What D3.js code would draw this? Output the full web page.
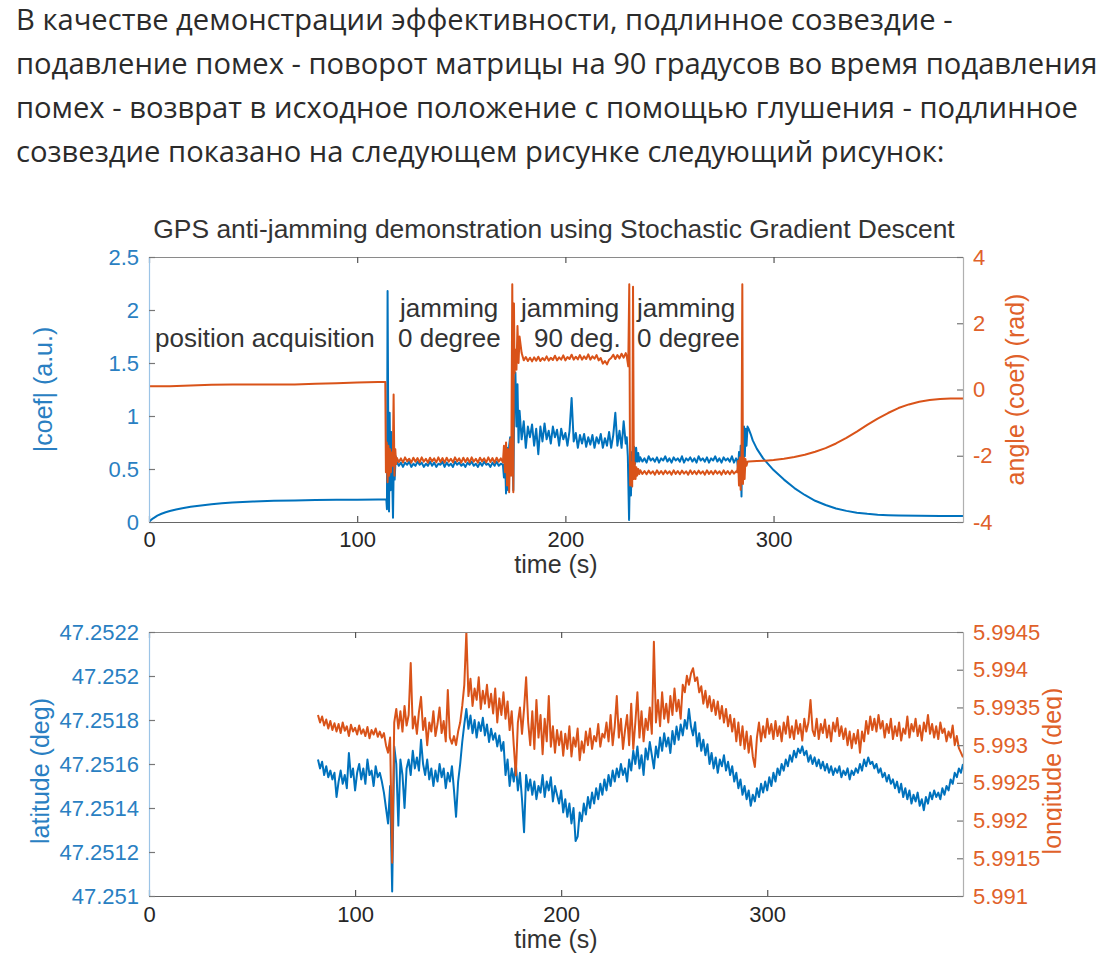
<!DOCTYPE html>
<html>
<head>
<meta charset="utf-8">
<script src="https://cdn.jsdelivr.net/npm/d3@7"></script>
<style>
html,body{margin:0;padding:0;background:#fff;}
svg{display:block;}
</style>
</head>
<body>
<svg id="chart" width="1106" height="957"></svg>
<script>
// ---------------- texts ----------------
const paragraphLines = [
  "В качестве демонстрации эффективности, подлинное созвездие -",
  "подавление помех - поворот матрицы на 90 градусов во время подавления",
  "помех - возврат в исходное положение с помощью глушения - подлинное",
  "созвездие показано на следующем рисунке следующий рисунок:"
];
const titleText = "GPS anti-jamming demonstration using Stochastic Gradient Descent";
const timeLabel = "time (s)";
const coefLabel = "|coef| (a.u.)";
const angleLabel = "angle (coef) (rad)";
const latLabel = "latitude (deg)";
const lonLabel = "longitude (deg)";

// ---------------- tick values ----------------
const timeTicks = [0, 100, 200, 300];
const coefTicks = [0, 0.5, 1, 1.5, 2, 2.5];
const angleTicks = [-4, -2, 0, 2, 4];
const latTicks = [47.251, 47.2512, 47.2514, 47.2516, 47.2518, 47.252, 47.2522];
const lonTicks = [5.991, 5.9915, 5.992, 5.9925, 5.993, 5.9935, 5.994, 5.9945];

// ---------------- top chart: |coef| (a.u.) ----------------
const coefAcquisition = [[0,0],[1,0.02],[2,0.035],[4,0.06],[6,0.078],[8,0.092],[10,0.103],[13,0.118],[16,0.13],[20,0.143],[25,0.156],[30,0.167],[35,0.176],[40,0.183],[50,0.193],[60,0.2],[70,0.204],[80,0.207],[90,0.209],[100,0.211],[110,0.213],[114,0.214]];
const coefTransition1 = [[114.3,0.12],[114.6,2.18],[115,0.6],[115.3,0.1],[115.6,1.03],[116,0.3],[116.4,0.85],[116.8,0.45],[117.2,0.04],[117.6,0.6],[118,0.4],[118.5,0.62]];
const coefJam0 = [0.57,0.53,0.56,0.52,0.56,0.54,0.57,0.52,0.55,0.53,
  0.57,0.54,0.56,0.52,0.55,0.53,0.57,0.53,0.56,0.52,
  0.55,0.54,0.57,0.52,0.56,0.53,0.55,0.52,0.57,0.54,
  0.56,0.53,0.55,0.52,0.56,0.54,0.57,0.53,0.55,0.52,
  0.56,0.53,0.57,0.54,0.55,0.52,0.56,0.53,0.57,0.53,
  0.55,0.54];
const coefTransition2 = [[170.5,0.42],[171,0.62],[171.5,0.27],[172,0.7],[172.5,0.3],[173,0.72],[173.5,0.8],[174,0.6],[174.5,0.85],[175,0.3],[175.5,1.2],[176,1.41],[176.5,0.9],[177,1.3],[177.5,0.75]];
const coefJam90 = [1.05,0.78,0.95,0.7,0.9,0.8,0.92,0.72,0.88,0.64,
  0.9,0.76,0.93,0.78,0.86,0.74,0.9,0.8,0.87,0.72,
  0.88,0.78,0.84,0.72,0.86,1.17,0.76,0.84,0.7,0.82,
  0.74,0.83,0.71,0.8,0.73,0.82,0.7,0.8,0.74,0.83,
  0.7,0.79,0.72,0.85,0.7,0.82,1.03,0.72,0.86,0.7,
  0.95,0.74];
const coefTransition3 = [[229.5,0.8],[230,0.62],[230.6,0.02],[231,0.5],[231.5,0.25],[232,0.66],[232.5,0.42],[233,0.71],[233.5,0.55],[234,0.7],[234.5,0.57],[235,0.65],[235.5,0.57]];
const coefJam0b = [0.61,0.57,0.6,0.56,0.62,0.58,0.6,0.57,0.61,0.56,
  0.6,0.58,0.62,0.57,0.6,0.56,0.61,0.58,0.6,0.57,
  0.62,0.56,0.6,0.58,0.61,0.57,0.6,0.56,0.62,0.58,
  0.6,0.57,0.61,0.56,0.6,0.58,0.62,0.57,0.6,0.56,
  0.61,0.58,0.6,0.57,0.62,0.56,0.6];
const coefTransition4 = [[282.5,0.58],[283,0.5],[283.4,0.66],[283.8,0.38],[284.2,0.72],[284.6,0.24],[285,0.82],[285.4,0.5],[285.8,0.9],[286.2,0.62],[286.6,0.88],[287,0.72],[287.5,0.9]];
const coefRelease = [[288,0.88],[289,0.83],[290,0.77],[292,0.69],[295,0.6],[300,0.49],[305,0.4],[310,0.32],[315,0.255],[320,0.2],[325,0.16],[330,0.128],[335,0.105],[340,0.088],[345,0.077],[350,0.069],[355,0.064],[360,0.061],[370,0.058],[380,0.057],[391,0.057]];

// ---------------- top chart: angle (coef) (rad) ----------------
const angleAcquisition = [[0,0.1],[10,0.1],[20,0.12],[30,0.14],[40,0.15],[50,0.15],[60,0.15],[70,0.15],[80,0.17],[90,0.19],[100,0.21],[110,0.23],[113.5,0.23]];
const angleTransition1 = [[113.8,-2.5],[114.2,-1.6],[114.6,-2.8],[115,-1.7],[115.4,-2.6],[115.8,-1.8],[116.2,-2.5],[116.6,-1.9],[117.1,-2.3],[117.5,-0.15],[117.9,-2.6],[118.3,-1.8],[118.7,-2.25]];
const angleJam0 = [-2.06,-2.19,-2.08,-2.2,-2.05,-2.17,-2.09,-2.21,-2.06,-2.18,
  -2.07,-2.2,-2.05,-2.18,-2.09,-2.21,-2.06,-2.17,-2.08,-2.2,
  -2.05,-2.19,-2.07,-2.21,-2.06,-2.18,-2.09,-2.2,-2.05,-2.17,
  -2.08,-2.21,-2.06,-2.19,-2.07,-2.2,-2.05,-2.18,-2.09,-2.21,
  -2.06,-2.17,-2.08,-2.2,-2.05,-2.19,-2.07,-2.21,-2.06,-2.18,
  -2.08,-2.2];
const angleTransition2 = [[170.5,-1.7],[171,-2.5],[171.5,-1.6],[172,-2.9],[172.5,-1.8],[173,-3.1],[173.5,-1.5],[174,-2.6],[174.5,3.18],[175,-3.1],[175.3,2.6],[175.6,0.5],[176,1.2],[176.5,0.6],[177,1.92],[177.5,0.8]];
const angleJam90 = [1.6,1.1,0.88,0.98,0.86,0.96,0.85,0.97,0.87,0.99,
  0.86,0.95,0.88,1.0,0.87,0.96,0.89,1.02,0.88,0.97,
  0.9,1.03,0.88,0.98,0.92,1.05,0.9,0.99,0.91,1.04,
  0.9,1.0,0.92,1.06,0.9,1.0,0.93,1.04,0.88,0.95,
  0.78,0.86,0.76,0.9,0.95,1.05,0.92,1.04,0.94,1.08,
  0.96,1.1];
const angleTransition3 = [[229.5,1.0],[230.2,0.7],[230.7,3.18],[231.1,-2.9],[231.6,-2.2],[232.1,-2.93],[232.5,3.1],[232.9,-2.7],[233.3,-2.2],[233.7,-2.7],[234.1,-2.35],[234.5,-2.6],[235,-2.4],[235.5,-2.55]];
const angleJam0b = [-2.44,-2.55,-2.46,-2.56,-2.45,-2.54,-2.47,-2.57,-2.44,-2.55,
  -2.46,-2.56,-2.45,-2.54,-2.47,-2.57,-2.44,-2.55,-2.46,-2.56,
  -2.45,-2.54,-2.47,-2.57,-2.44,-2.55,-2.46,-2.56,-2.45,-2.54,
  -2.47,-2.57,-2.44,-2.55,-2.46,-2.56,-2.45,-2.54,-2.47,-2.57,
  -2.44,-2.55,-2.46,-2.56,-2.45,-2.54,-2.47];
const angleTransition4 = [[282.5,-2.5],[283,-2.15],[283.4,-2.9],[283.8,-2.05],[284.2,-3.03],[284.6,-2.25],[285,3.18],[285.3,-2.85],[285.7,-2.05],[286.1,-2.7],[286.5,-2.1],[287,-2.3],[287.5,-2.18]];
const angleRelease = [[288,-2.17],[292,-2.16],[296,-2.15],[300,-2.13],[305,-2.09],[310,-2.04],[315,-1.97],[320,-1.88],[325,-1.77],[330,-1.63],[335,-1.46],[340,-1.27],[345,-1.07],[350,-0.88],[355,-0.71],[360,-0.56],[365,-0.45],[370,-0.37],[375,-0.32],[380,-0.29],[385,-0.27],[391,-0.27]];

// start times (s) of the 1-second-sampled jamming segments
const jamStarts = {jam0: 119, jam90: 178, jam0b: 236};

// phase annotations: time (s), |coef| level of text baseline
const phaseNotes = [
  {t: 2.9,   v: 1.651, text: "position acquisition"},
  {t: 120.6, v: 1.934, text: "jamming"},
  {t: 119.6, v: 1.651, text: "0 degree"},
  {t: 178.7, v: 1.934, text: "jamming"},
  {t: 184.9, v: 1.651, text: "90 deg."},
  {t: 234.4, v: 1.934, text: "jamming"},
  {t: 234.4, v: 1.651, text: "0 degree"}
];

// ---------------- bottom chart: GPS fix, 1 s samples from t = 82 s ----------------
const gpsStart = 82;
const latitude = [
  47.25162,47.25158,47.25161,47.25155,47.25159,47.25154,47.25157,47.25153,47.25156,47.25145,
  47.25152,47.25157,47.25151,47.25155,47.25149,47.25165,47.25154,47.25158,47.25148,47.25156,
  47.2516,47.25153,47.25158,47.25151,47.25162,47.25155,47.25157,47.2515,47.25159,47.25154,
  47.25156,47.25152,47.25147,47.2514,47.25133,47.2515,47.25102,47.25168,47.2516,47.25132,
  47.25162,47.25155,47.2514,47.25158,47.25162,47.25155,47.25166,47.25158,47.25163,47.25157,
  47.25171,47.2516,47.25155,47.25162,47.25153,47.25158,47.2515,47.25157,47.25152,47.2516,
  47.25154,47.25158,47.25149,47.25156,47.25152,47.25159,47.25148,47.25136,47.25152,47.2516,
  47.2517,47.25178,47.25185,47.25176,47.25182,47.25174,47.2518,47.25172,47.25179,47.25175,
  47.25181,47.25173,47.25178,47.2517,47.25176,47.25171,47.25174,47.25168,47.25173,47.25166,
  47.2517,47.25155,47.25162,47.2515,47.25158,47.25152,47.2516,47.25148,47.25156,47.25144,
  47.25129,47.25155,47.25148,47.25153,47.25146,47.25152,47.25144,47.2515,47.25147,47.25155,
  47.25145,47.25152,47.25148,47.25154,47.25143,47.2515,47.25146,47.25142,47.25148,47.25138,
  47.25144,47.25136,47.25142,47.25133,47.2514,47.25125,47.25127,47.25138,47.25134,47.25142,
  47.25137,47.25145,47.2514,47.25147,47.25142,47.25149,47.25144,47.25151,47.25146,47.25153,
  47.25148,47.25155,47.2515,47.25157,47.25152,47.25158,47.25154,47.2516,47.25155,47.25158,
  47.25152,47.25162,47.25157,47.25166,47.2516,47.25168,47.25158,47.25164,47.25155,47.25167,
  47.25162,47.2517,47.25164,47.25158,47.25168,47.25163,47.25172,47.25166,47.25174,47.25168,
  47.25172,47.25165,47.25175,47.25169,47.25177,47.25171,47.25178,47.25173,47.2518,47.25176,
  47.25185,47.25177,47.25173,47.25179,47.25168,47.25174,47.25166,47.25171,47.25164,47.25169,
  47.2516,47.25165,47.25158,47.25163,47.25156,47.25162,47.25159,47.25164,47.25157,47.25161,
  47.25155,47.25159,47.25152,47.25156,47.25149,47.25153,47.25146,47.2515,47.25144,47.25148,
  47.25141,47.25146,47.25143,47.25149,47.25145,47.25151,47.25147,47.25152,47.25148,47.25154,
  47.2515,47.25156,47.25152,47.25158,47.25155,47.2516,47.25157,47.25162,47.25159,47.25164,
  47.25161,47.25166,47.25163,47.25167,47.25165,47.25168,47.25164,47.25166,47.25161,47.25164,
  47.2516,47.25163,47.25159,47.25162,47.25158,47.25161,47.25157,47.2516,47.25156,47.25159,
  47.25155,47.25158,47.25156,47.25159,47.25154,47.25157,47.25155,47.25158,47.25153,47.25157,
  47.25155,47.25158,47.25156,47.2516,47.25157,47.25162,47.25159,47.25163,47.2516,47.25161,
  47.25158,47.2516,47.25156,47.25158,47.25154,47.25156,47.25152,47.25155,47.25151,47.25153,
  47.25149,47.25152,47.25147,47.25151,47.25145,47.25149,47.25144,47.25148,47.25142,47.25146,
  47.25143,47.25147,47.25141,47.25144,47.25139,47.25145,47.25142,47.25147,47.25144,47.25148,
  47.25145,47.25147,47.25144,47.25149,47.25146,47.2515,47.25148,47.25153,47.25151,47.25156,
  47.25154,47.25158,47.25156,47.2516
];
const longitude = [
  5.9934,5.9933,5.99338,5.99326,5.99334,5.99322,5.99332,5.9932,5.99329,5.99318,
  5.99328,5.99316,5.9933,5.99319,5.99325,5.99312,5.99327,5.99318,5.99323,5.99314,
  5.99326,5.99315,5.99321,5.99312,5.99324,5.99309,5.9932,5.99314,5.99322,5.99311,
  5.99318,5.9931,5.99316,5.993,5.9929,5.9931,5.99144,5.9933,5.99348,5.99322,
  5.99345,5.99318,5.99352,5.99326,5.9934,5.99409,5.99322,5.99338,5.99315,5.99344,
  5.99364,5.9932,5.99336,5.993,5.9933,5.99318,5.99345,5.99312,5.99328,5.9935,
  5.99316,5.99332,5.99305,5.99373,5.9931,5.99302,5.99312,5.993,5.99318,5.9933,
  5.99352,5.9938,5.9945,5.99365,5.99388,5.99352,5.99375,5.9936,5.9939,5.99348,
  5.99372,5.99355,5.9938,5.9935,5.99368,5.99342,5.99375,5.9933,5.99362,5.9934,
  5.9937,5.99335,5.99358,5.9932,5.99345,5.993,5.9926,5.9933,5.9935,5.99315,
  5.99348,5.9939,5.9933,5.993,5.99345,5.99295,5.9936,5.9931,5.9934,5.99288,
  5.99335,5.99305,5.99365,5.99298,5.99325,5.9929,5.9932,5.993,5.99318,5.99286,
  5.99315,5.99295,5.99325,5.99285,5.9931,5.99298,5.99322,5.9928,5.99305,5.9929,
  5.99318,5.993,5.99322,5.99295,5.99312,5.99305,5.99328,5.99298,5.99315,5.9931,
  5.9933,5.99305,5.9934,5.993,5.99325,5.99365,5.9931,5.99335,5.99295,5.9932,
  5.9934,5.993,5.99355,5.99295,5.9933,5.9937,5.9931,5.99345,5.99305,5.99335,
  5.9932,5.9935,5.99315,5.99437,5.9933,5.9936,5.99325,5.9937,5.99335,5.99355,
  5.9933,5.99365,5.9934,5.99375,5.99345,5.9936,5.99335,5.9938,5.9937,5.99392,
  5.9938,5.99395,5.99402,5.99385,5.9939,5.9937,5.99378,5.99355,5.99372,5.9935,
  5.99365,5.99345,5.9936,5.9934,5.99358,5.99335,5.99352,5.9933,5.99348,5.99325,
  5.9934,5.99318,5.99335,5.99305,5.9933,5.993,5.99325,5.99295,5.99318,5.9929,
  5.99312,5.99285,5.99271,5.9931,5.9933,5.99305,5.99325,5.9931,5.99335,5.99315,
  5.99328,5.99308,5.99332,5.99312,5.99325,5.99305,5.9933,5.99315,5.99338,5.9931,
  5.99325,5.99308,5.99333,5.99315,5.99328,5.99306,5.99335,5.99318,5.9933,5.9936,
  5.9932,5.99312,5.99335,5.99308,5.99328,5.99316,5.99334,5.9931,5.99326,5.99305,
  5.9933,5.99318,5.99336,5.99312,5.99325,5.99308,5.99322,5.993,5.99318,5.99296,
  5.99315,5.99302,5.9932,5.9929,5.99318,5.99305,5.99332,5.99315,5.99338,5.9932,
  5.99335,5.99318,5.9934,5.99322,5.99332,5.9931,5.99328,5.99316,5.99335,5.99308,
  5.99325,5.99312,5.9933,5.99306,5.99322,5.99315,5.99338,5.9931,5.99328,5.99318,
  5.99335,5.99312,5.99326,5.99306,5.9933,5.99318,5.9934,5.99315,5.99328,5.9931,
  5.99325,5.99308,5.9933,5.99316,5.99322,5.99305,5.99318,5.9931,5.99326,5.993,
  5.99312,5.99296,5.9929,5.99284
];

// ---------------- drawing ----------------
const svg = d3.select("#chart");
const SANS = "'Liberation Sans', Arial, Helvetica, sans-serif";
const BLUE = "#0072BD", ORANGE = "#D95319";
const BLUE_T = "#2a7fc2", ORANGE_T = "#e0612a";
const INK = "#333333";

const perSecond = (t0, vals) => vals.map((v, i) => [t0 + i, v]);

// paragraph
const para = svg.append("g").attr("font-family", "'Open Sans', sans-serif").attr("fill", "#2b2b2b").attr("font-size", 25);
const paraText = para.selectAll("text").data(paragraphLines).join("text")
  .attr("x", 16).attr("y", (d, i) => 29.5 + i * 44).text(d => d);
const w2 = paraText.nodes()[1].getComputedTextLength();
para.attr("font-size", 25 * 1082 / w2);

function styleAxis(ax, opts) {
  ax.attr("font-family", SANS).attr("font-size", 22);
  ax.select(".domain").attr("stroke", opts.domain).attr("stroke-width", 1.2);
  ax.selectAll(".tick line").attr("stroke", opts.tick).attr("stroke-width", 1.2);
  ax.selectAll(".tick text").attr("fill", opts.text);
}

function panel(p) {
  const g = svg.append("g");
  const clipId = p.id + "-clip";
  svg.append("clipPath").attr("id", clipId).append("rect")
    .attr("x", p.left).attr("y", p.top).attr("width", p.right - p.left).attr("height", p.bottom - p.top);

  const lines = g.append("g").attr("clip-path", `url(#${clipId})`);
  p.series.forEach(s => {
    lines.append("path").datum(s.data)
      .attr("fill", "none").attr("stroke", s.color).attr("stroke-width", 2)
      .attr("stroke-linejoin", "round")
      .attr("d", d3.line().x(d => p.x(d[0])).y(d => s.y(d[1])));
  });

  const axB = g.append("g").attr("transform", `translate(0,${p.bottom})`)
    .call(d3.axisBottom(p.x).tickValues(timeTicks).tickFormat(String).tickSizeInner(-6).tickSizeOuter(0).tickPadding(p.xPad));
  styleAxis(axB, {domain: "#666", tick: "#555", text: "#262626"});
  const axT = g.append("g").attr("transform", `translate(0,${p.top})`)
    .call(d3.axisTop(p.x).tickValues(timeTicks).tickFormat("").tickSizeInner(-6).tickSizeOuter(0));
  styleAxis(axT, {domain: "#8a8a8a", tick: "#555", text: "#262626"});
  const axL = g.append("g").attr("transform", `translate(${p.left},0)`)
    .call(d3.axisLeft(p.yL).tickValues(p.ticksL).tickFormat(String).tickSizeInner(-6).tickSizeOuter(0).tickPadding(10));
  styleAxis(axL, {domain: "#9cc4e6", tick: "#777", text: BLUE_T});
  const axR = g.append("g").attr("transform", `translate(${p.right},0)`)
    .call(d3.axisRight(p.yR).tickValues(p.ticksR).tickFormat(String).tickSizeInner(-6).tickSizeOuter(0).tickPadding(10));
  styleAxis(axR, {domain: "#b0b0b0", tick: "#777", text: ORANGE_T});

  // axis labels
  g.append("text").attr("x", (p.left + p.right) / 2).attr("y", p.timeY)
    .attr("text-anchor", "middle").attr("font-family", SANS).attr("font-size", 25).attr("fill", INK).text(timeLabel);
  g.append("text").attr("transform", `translate(${p.labelLX},${p.labelY}) rotate(-90)`)
    .attr("text-anchor", "middle").attr("font-family", SANS).attr("font-size", 25).attr("fill", BLUE_T).text(p.labelL);
  let rHolder = g;
  if (p.clipRightLabel) {
    svg.append("clipPath").attr("id", p.id + "-lab").append("rect")
      .attr("x", 0).attr("y", 0).attr("width", p.clipRightLabel).attr("height", 957);
    rHolder = g.append("g").attr("clip-path", `url(#${p.id}-lab)`);
  }
  rHolder.append("text").attr("transform", `translate(${p.labelRX},${p.labelY}) rotate(-90)`)
    .attr("text-anchor", "middle").attr("font-family", SANS).attr("font-size", 25).attr("fill", ORANGE_T).text(p.labelR);
  return g;
}

// ----- top panel -----
const xTop = d3.scaleLinear().domain([0, 391]).range([149, 963]);
const yCoef = d3.scaleLinear().domain([0, 2.5]).range([522, 257]);
const yAngle = d3.scaleLinear().domain([-4, 4]).range([522, 257]);

const coefSeries = [].concat(coefAcquisition, coefTransition1, perSecond(jamStarts.jam0, coefJam0),
  coefTransition2, perSecond(jamStarts.jam90, coefJam90), coefTransition3,
  perSecond(jamStarts.jam0b, coefJam0b), coefTransition4, coefRelease);
const angleSeries = [].concat(angleAcquisition, angleTransition1, perSecond(jamStarts.jam0, angleJam0),
  angleTransition2, perSecond(jamStarts.jam90, angleJam90), angleTransition3,
  perSecond(jamStarts.jam0b, angleJam0b), angleTransition4, angleRelease);

const topG = panel({
  id: "top", x: xTop, yL: yCoef, yR: yAngle, left: 149, right: 963, top: 257, bottom: 522,
  ticksL: coefTicks, ticksR: angleTicks, xPad: 9, timeY: 573,
  labelL: coefLabel, labelR: angleLabel, labelLX: 52, labelRX: 1024, labelY: 389.5,
  series: [{data: coefSeries, y: yCoef, color: BLUE}, {data: angleSeries, y: yAngle, color: ORANGE}]
});

topG.append("g").selectAll("text").data(phaseNotes).join("text")
  .attr("x", d => xTop(d.t)).attr("y", d => yCoef(d.v))
  .attr("font-family", SANS).attr("font-size", 26).attr("fill", INK).text(d => d.text);

const title = svg.append("text").attr("x", 554).attr("y", 238).attr("text-anchor", "middle")
  .attr("font-family", SANS).attr("font-size", 25).attr("fill", INK).text(titleText);
const tw = title.node().getComputedTextLength();
title.attr("font-size", 25 * 802 / tw);

// ----- bottom panel -----
const xBot = d3.scaleLinear().domain([0, 395]).range([149, 963]);
const yLat = d3.scaleLinear().domain([47.251, 47.2522]).range([896, 632]);
const yLon = d3.scaleLinear().domain([5.991, 5.9945]).range([896, 632]);

panel({
  id: "bot", x: xBot, yL: yLat, yR: yLon, left: 149, right: 963, top: 632, bottom: 896,
  ticksL: latTicks, ticksR: lonTicks, xPad: 10.5, timeY: 948,
  labelL: latLabel, labelR: lonLabel, labelLX: 49, labelRX: 1061, labelY: 771, clipRightLabel: 1062,
  series: [{data: perSecond(gpsStart, latitude), y: yLat, color: BLUE}, {data: perSecond(gpsStart, longitude), y: yLon, color: ORANGE}]
});
</script>
</body>
</html>
